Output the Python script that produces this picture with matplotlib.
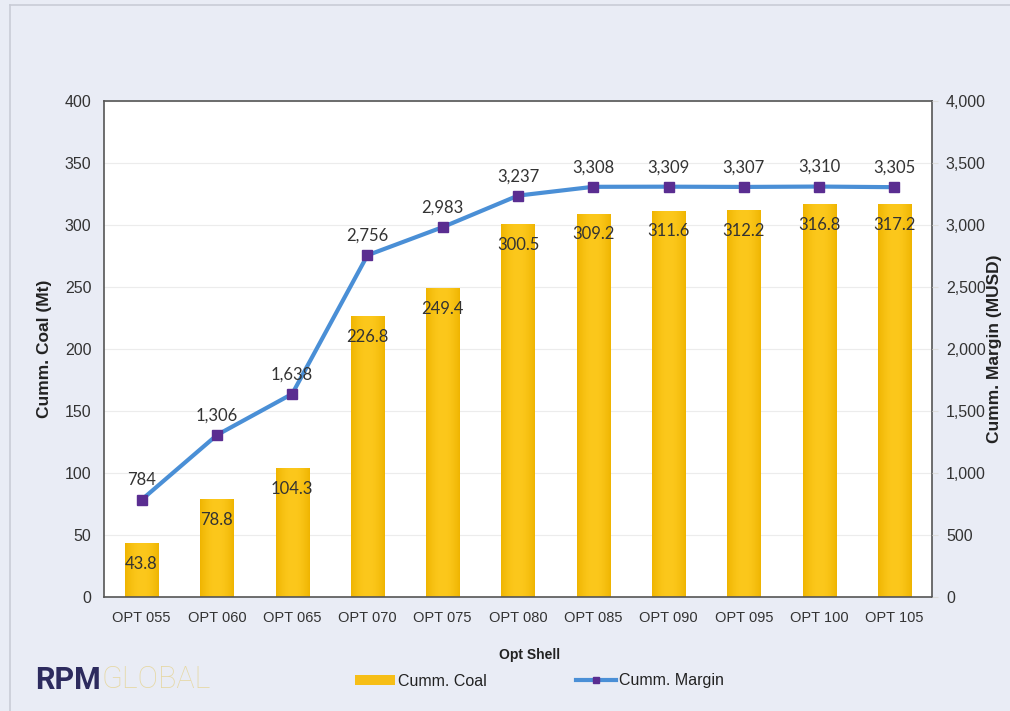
import matplotlib
matplotlib.use("Agg")
import matplotlib.pyplot as plt
import numpy as np
from matplotlib.lines import Line2D
from matplotlib.patches import Patch

shells = ["OPT 055", "OPT 060", "OPT 065", "OPT 070", "OPT 075", "OPT 080",
          "OPT 085", "OPT 090", "OPT 095", "OPT 100", "OPT 105"]
coal_mt = [43.8, 78.8, 104.3, 226.8, 249.4, 300.5, 309.2, 311.6, 312.2, 316.8, 317.2]
margin_musd = [784, 1306, 1638, 2756, 2983, 3237, 3308, 3309, 3307, 3310, 3305]

BG = "#e9ecf5"
BAR_EDGE = "#efb400"
BAR_MID = "#fcc81c"
LINE = "#4a8fd6"
MARK = "#5a2d91"
TXT = "#333333"

plt.rcParams["font.family"] = ["Liberation Sans", "DejaVu Sans"]

fig = plt.figure(figsize=(10.10, 7.11), dpi=100, facecolor=BG)
# frame lines along the left and top edges
fig.lines.append(Line2D([10 / 1010, 10 / 1010], [0, 1 - 5 / 711], transform=fig.transFigure,
                        color="#c9ccd6", linewidth=1.2))
fig.lines.append(Line2D([10 / 1010, 1], [1 - 5 / 711, 1 - 5 / 711], transform=fig.transFigure,
                        color="#c9ccd6", linewidth=1.2))

ax = fig.add_axes([104 / 1010, 1 - 597 / 711, 828 / 1010, 496 / 711])
ax.set_facecolor("white")
x = np.arange(len(shells))

# bars with a soft horizontal shading
bars = ax.bar(x, coal_mt, width=0.44, color=BAR_MID, zorder=2, linewidth=0)
t = np.linspace(-1, 1, 128)
grad = (1 - np.abs(t) ** 2).reshape(1, -1)
cmap = matplotlib.colors.LinearSegmentedColormap.from_list("coal", [BAR_EDGE, BAR_MID])
for b in bars:
    x0, y0, w, h = b.get_x(), b.get_y(), b.get_width(), b.get_height()
    im = ax.imshow(grad, extent=[x0, x0 + w, y0, y0 + h], origin="lower",
                   aspect="auto", cmap=cmap, vmin=0, vmax=1, zorder=2.1)
    im.set_clip_path(b)

for xi, v in zip(x, coal_mt):
    ax.annotate(f"{v:.1f}", (xi, v), xytext=(0, -15), textcoords="offset points",
                ha="center", va="center", fontsize=12, color=TXT,
                family=["Lato", "DejaVu Sans"], zorder=5)

ax.set_ylim(0, 400)
ax.set_xlim(-0.5, len(shells) - 0.5)
ax.set_yticks(np.arange(0, 401, 50))
ax.set_xticks(x)
ax.set_xticklabels(shells)
ax.grid(axis="y", color="#ececec", linewidth=0.8, zorder=0)
ax.set_axisbelow(True)
ax.tick_params(axis="y", length=0, labelsize=11.5, colors=TXT, pad=9)
ax.tick_params(axis="x", length=0, labelsize=10.5, colors=TXT, pad=10)
for s in ax.spines.values():
    s.set_color("#555555")
    s.set_linewidth(1.2)
ax.set_ylabel("Cumm. Coal (Mt)", fontsize=12.5, fontweight="bold", color="#222222", labelpad=9)

ax2 = ax.twinx()
ax2.set_ylim(0, 4000)
ax2.set_yticks(np.arange(0, 4001, 500))
ax2.set_yticklabels([f"{v:,}" for v in range(0, 4001, 500)])
ax2.tick_params(axis="y", length=4, color="#dddddd", labelsize=11.5, colors=TXT, pad=6)
ax2.plot(x, margin_musd, color=LINE, linewidth=3, marker="s", markersize=6.5,
         markerfacecolor=MARK, markeredgecolor=MARK, zorder=4)
for xi, v in zip(x, margin_musd):
    ax2.annotate(f"{v:,}", (xi, v), xytext=(0, 14), textcoords="offset points",
                 ha="center", va="center", fontsize=12, color=TXT,
                 family=["Lato", "DejaVu Sans"], zorder=5)
for s in ax2.spines.values():
    s.set_visible(False)
ax2.set_ylabel("Cumm. Margin (MUSD)", fontsize=12.5, fontweight="bold", color="#222222", labelpad=1)

fig.text(530 / 1010, 1 - 655 / 711, "Opt Shell", ha="center", va="center",
         fontsize=10, fontweight="bold", color="#222222")

handles = [Patch(facecolor="#f6be16", edgecolor="none"),
           Line2D([0], [0], color=LINE, linewidth=3, marker="s", markersize=5,
                  markerfacecolor=MARK, markeredgecolor=MARK)]
fig.legend(handles, ["Cumm. Coal", "Cumm. Margin"], loc="center left",
           bbox_to_anchor=(355 / 1010, 1 - 681 / 711), ncol=2, frameon=False,
           borderpad=0, borderaxespad=0,
           fontsize=11.5, handlelength=2.5, handleheight=0.6, handletextpad=0.2,
           columnspacing=5.6, labelcolor="#222222")

fig.text(35 / 1010, 1 - 680 / 711, "RPM", ha="left", va="center", fontsize=22,
         fontweight="bold", color="#2d2b5e", family=["Roboto", "DejaVu Sans"])
fig.text(101 / 1010, 1 - 680 / 711, "GLOBAL", ha="left", va="center", fontsize=22,
         fontweight="light", color="#e6d8a4", family=["Roboto", "DejaVu Sans"])

fig.savefig("out.png", dpi=100, facecolor=BG)
